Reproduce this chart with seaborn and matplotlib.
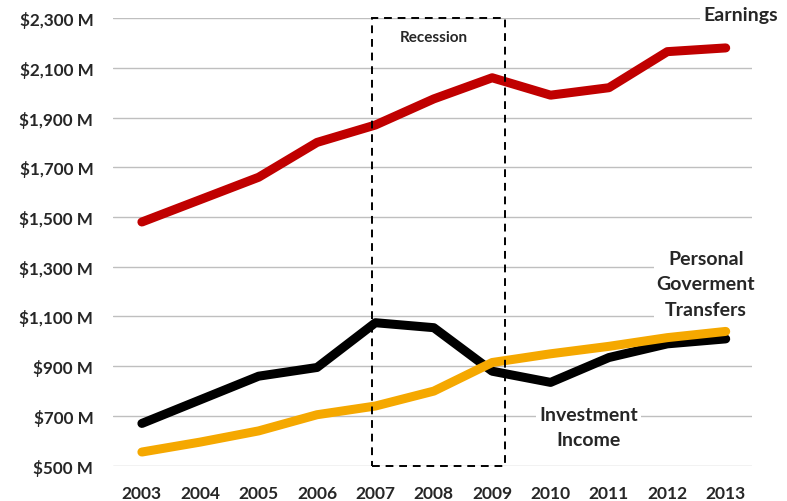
import pandas as pd
import matplotlib
matplotlib.use('Agg')
import matplotlib.pyplot as plt
import seaborn as sns
from matplotlib.patches import Rectangle
from matplotlib.ticker import FuncFormatter

# Values (millions of dollars)
years = [2003, 2004, 2005, 2006, 2007, 2008, 2009, 2010, 2011, 2012, 2013]
earnings = [1480, 1570, 1660, 1800, 1870, 1975, 2060, 1990, 2020, 2165, 2180]
investment = [670, 765, 860, 895, 1075, 1055, 880, 835, 935, 990, 1010]
transfers = [555, 595, 640, 705, 740, 800, 915, 950, 980, 1015, 1040]

series_names = ['Earnings', 'Investment Income', 'Personal Goverment Transfers']
colors = ['#c00000', '#000000', '#f5a800']
y_ticks = [500, 700, 900, 1100, 1300, 1500, 1700, 1900, 2100, 2300]

# Build long-form frame for seaborn
df = pd.DataFrame({
    'year': years * 3,
    'value': earnings + investment + transfers,
    'series': [series_names[0]] * len(years) + [series_names[1]] * len(years) + [series_names[2]] * len(years),
})

sns.set_style('white')
plt.rcParams['font.family'] = ['Lato', 'DejaVu Sans']

fig = plt.figure(figsize=(7.87, 5.02), dpi=100)
ax = fig.add_axes([0.1432, 0.0703, 0.8123, 0.8917])

sns.lineplot(data=df, x='year', y='value', hue='series', palette=dict(zip(series_names, colors)),
             linewidth=6.5, solid_capstyle='round', legend=False, ax=ax, zorder=3)

# Recession box
ax.add_patch(Rectangle((2006.95, 500), 2.27, 1800, fill=False, edgecolor='black',
                       linestyle=(0, (4, 3)), linewidth=1.4, zorder=4, clip_on=False))
ax.text(2008.0, 2225, 'Recession', ha='center', va='center', fontsize=11, fontweight='bold')

ax.set_xlim(2002.5, 2013.45)
ax.set_ylim(500, 2300)
ax.set_xticks(years)
ax.set_yticks(y_ticks)
ax.yaxis.set_major_formatter(FuncFormatter(lambda v, p: f'${v:,.0f} M'))
ax.grid(axis='y', color='#bfbfbf', linewidth=1)
ax.grid(axis='x', visible=False)
ax.set_axisbelow(True)
for s in ax.spines.values():
    s.set_visible(False)
ax.tick_params(axis='y', length=0, labelsize=12.3, pad=14)
ax.tick_params(axis='x', length=0, labelsize=12.5, pad=14)
for lbl in ax.get_xticklabels() + ax.get_yticklabels():
    lbl.set_fontweight('bold')
ax.set_xlabel('')
ax.set_ylabel('')

# Series labels
box = dict(facecolor='white', edgecolor='none', pad=2)
ax.text(2013.25, 2313, 'Earnings', ha='center', va='center', fontsize=14,
        fontweight='bold', bbox=box, clip_on=False, zorder=5)
ax.text(2012.66, 1231, 'Personal\nGoverment\nTransfers', ha='center', va='center',
        fontsize=14, fontweight='bold', linespacing=1.6, bbox=box, zorder=5)
ax.text(2010.65, 656, 'Investment\nIncome', ha='center', va='center', fontsize=14,
        fontweight='bold', linespacing=1.6, bbox=box, zorder=5)

plt.savefig('out.png', dpi=100)
